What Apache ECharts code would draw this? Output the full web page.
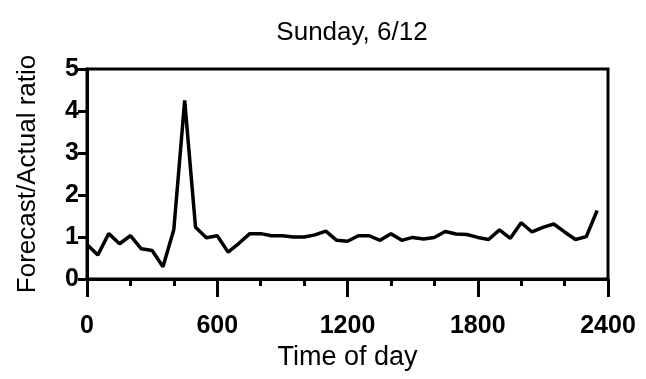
<!DOCTYPE html>
<html><head><meta charset="utf-8">
<script src="https://cdn.jsdelivr.net/npm/echarts@6/dist/echarts.min.js"></script>
<style>html,body{margin:0;padding:0;background:#fff}#c{width:646px;height:379px}</style>
</head><body><div id="c"></div>
<script>
const times = [0,50,100,150,200,250,300,350,400,450,500,550,600,650,700,750,800,850,900,950,1000,1050,1100,1150,1200,1250,1300,1350,1400,1450,1500,1550,1600,1650,1700,1750,1800,1850,1900,1950,2000,2050,2100,2150,2200,2250,2300,2350];
const ratios = [0.82,0.57,1.08,0.84,1.03,0.72,0.68,0.29,1.18,4.25,1.23,0.98,1.03,0.64,0.85,1.08,1.08,1.03,1.03,1.0,1.0,1.05,1.14,0.92,0.9,1.03,1.03,0.92,1.08,0.92,0.99,0.95,0.99,1.13,1.07,1.06,0.99,0.94,1.17,0.97,1.34,1.12,1.23,1.31,1.12,0.94,1.01,1.63];
const xTicks = [0,600,1200,1800,2400];
const yTicks = [0,1,2,3,4,5];
const titleText = 'Sunday, 6/12';
const xName = 'Time of day';
const yName = 'Forecast/Actual ratio';

const font = '"Liberation Sans", Arial, Helvetica, sans-serif';
const chart = echarts.init(document.getElementById('c'), null, {renderer:'canvas'});
chart.setOption({
  animation:false,
  backgroundColor:'#fff',
  title:{text:titleText,left:347,top:15,textAlign:'center',
    textStyle:{fontFamily:font,fontSize:26,fontWeight:'normal',color:'#000'}},
  grid:{left:87,right:38,top:69,bottom:100,show:true,borderColor:'#000',borderWidth:3,backgroundColor:'transparent'},
  xAxis:{type:'value',min:xTicks[0],max:xTicks[xTicks.length-1],interval:600,
    name:xName,nameLocation:'middle',nameGap:63,
    nameTextStyle:{fontFamily:font,fontSize:27,color:'#000'},
    axisLine:{show:true,onZero:false,lineStyle:{color:'#000',width:3}},
    axisTick:{show:true,inside:false,length:18,lineStyle:{color:'#000',width:3}},
    minorTick:{show:true,splitNumber:3,length:7,lineStyle:{color:'#000',width:3}},
    splitLine:{show:false},
    axisLabel:{margin:35,fontFamily:font,fontSize:25,fontWeight:'bold',color:'#000',
      formatter:v=>String(v)}},
  yAxis:{type:'value',min:yTicks[0],max:yTicks[yTicks.length-1],interval:1,
    name:yName,nameLocation:'middle',nameGap:46,
    nameTextStyle:{fontFamily:font,fontSize:26,color:'#000'},
    axisLine:{show:true,lineStyle:{color:'#000',width:3}},
    axisTick:{show:true,inside:false,length:9,lineStyle:{color:'#000',width:3}},
    splitLine:{show:false},
    axisLabel:{margin:8,fontFamily:font,fontSize:25,fontWeight:'bold',color:'#000',
      formatter:v=>String(v)}},
  series:[{type:'line',data:times.map((t,i)=>[t,ratios[i]]),showSymbol:false,
    lineStyle:{color:'#000',width:3.5},itemStyle:{color:'#000'}}]
});
</script></body></html>
